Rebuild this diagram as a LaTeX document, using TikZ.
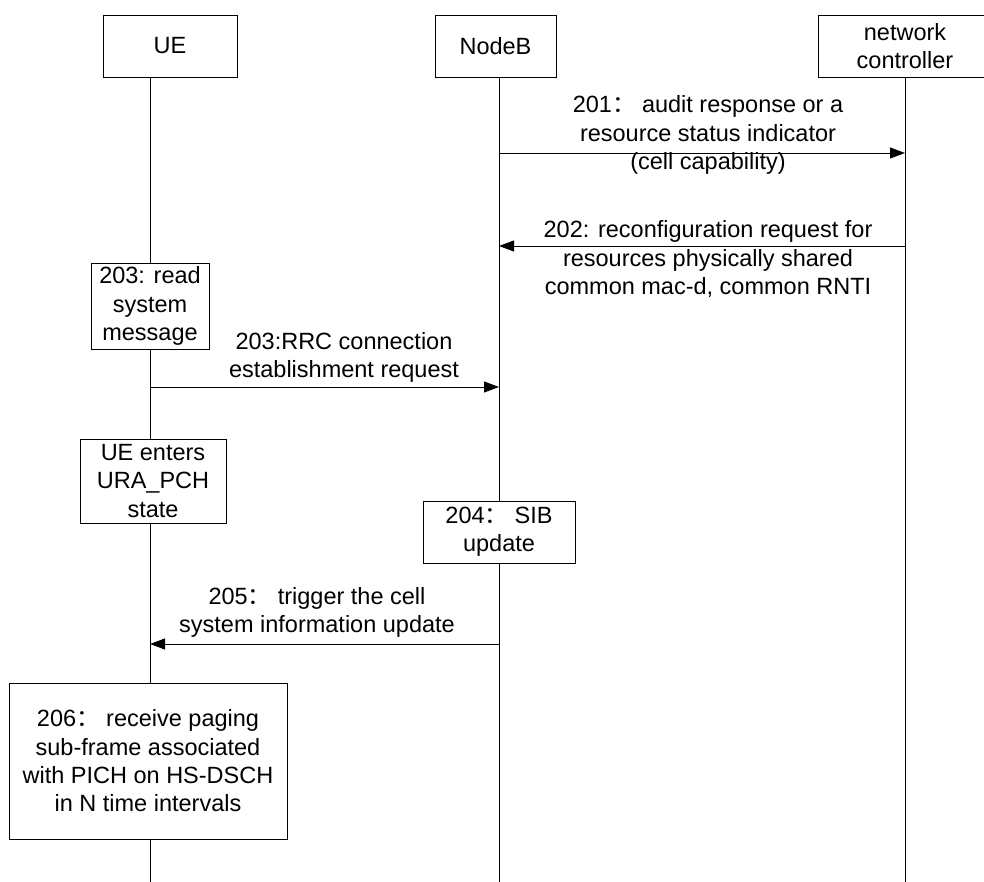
\documentclass[tikz,border=0pt]{standalone}
\usepackage{fontspec}
\setmainfont{Liberation Sans}
\newfontfamily\cjk{Noto Sans CJK SC}
\usetikzlibrary{arrows.meta}
\newcommand{\fcolon}{{\cjk ：}}

\begin{document}
\begin{tikzpicture}[x=1pt, y=-1pt, line width=0.9pt,
	every node/.style={font=\fontsize{23.5}{28.3}\selectfont, align=center},
	entity/.style={draw, fill=white, minimum height=62pt, inner sep=0pt},
	action/.style={draw, fill=white, inner sep=0pt},
	msg/.style={-{Triangle[length=15pt, width=11pt]}}]
	\useasboundingbox (0,0) rectangle (984,882);
	% lifelines
	\foreach \name/\x in {UE/150, NodeB/499, NC/905}{
		\coordinate (\name top) at (\x,77);
		\coordinate (\name end) at (\x,882);
		\draw (\name top) -- (\name end);
	}
	\node[entity, minimum width=134pt] (UE) at (170,46) {UE};
	\node[entity, minimum width=121pt] (NodeB) at (495.5,46) {NodeB};
	\node[entity, minimum width=174pt] (NC) at (905,46) {network\\controller};
	% messages
	\foreach \n/\y/\a/\b in {201/153/499/905, 202/246/905/499, 203/387/150/499, 205/644/499/150}{
		\coordinate (s\n) at (\a,\y);
		\coordinate (e\n) at (\b,\y);
		\draw[msg] (s\n) -- (e\n);
	}
	\node (t201) at (708,135) {201\fcolon\ audit response or a\\resource status indicator\\(cell capability)};
	\node (t202) at (708,259) {202: reconfiguration request for\\resources physically shared\\common mac-d, common RNTI};
	\node (t203) at (344,357.5) {203:RRC connection\\establishment request};
	\node (t205) at (317,612.5) {205\fcolon\ trigger the cell\\system information update};
	% actions
	\node[action, minimum width=118pt, minimum height=86pt] (read) at (150,306) {203: read\\system\\message};
	\node[action, minimum width=146pt, minimum height=84pt] (enter) at (153,481) {UE enters\\URA\_PCH\\state};
	\node[action, minimum width=152pt, minimum height=62pt] (sib) at (499,532) {204\fcolon\ SIB\\update};
	\node[action, minimum width=278pt, minimum height=156pt] (paging) at (148,761) {206\fcolon\ receive paging\\sub-frame associated\\with PICH on HS-DSCH\\in N time intervals};
\end{tikzpicture}
\end{document}
